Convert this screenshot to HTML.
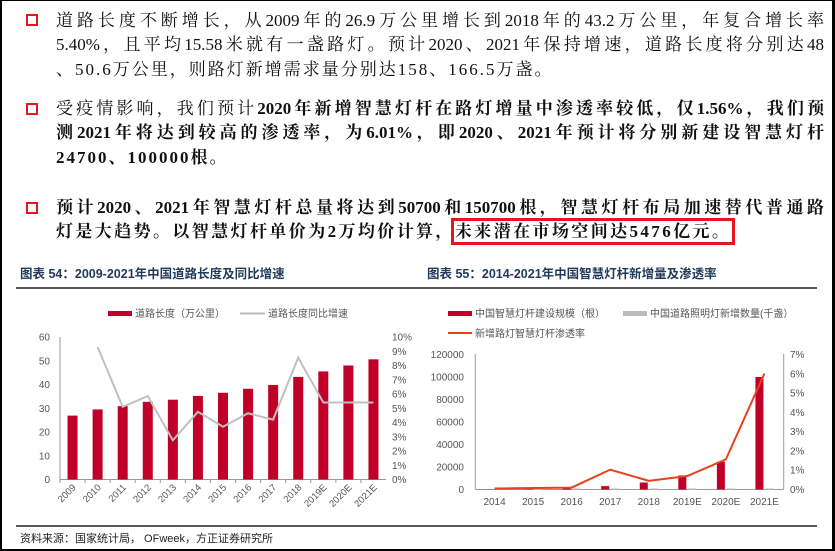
<!DOCTYPE html>
<html><head><meta charset="utf-8"><style>
html,body{margin:0;padding:0;background:#fff;}
#w{position:relative;width:835px;height:551px;overflow:hidden;box-sizing:border-box;border:1px solid #000;border-left:2px solid #000;border-right:3px solid #000;border-bottom:2px solid #000;}
.b{position:absolute;left:24px;width:8px;height:8px;border:2.5px solid #e8141e;}
.l{position:absolute;left:54px;width:768px;height:24px;font:17px "Liberation Serif","Noto Serif CJK SC",serif;color:#111;text-align:justify;text-align-last:justify;white-space:nowrap;line-height:24px;}
.l.n{text-align-last:left;letter-spacing:2px;}
.bo{font-weight:bold;}
svg{position:absolute;left:0;top:0;}
svg text{font-family:"Liberation Sans","Noto Sans CJK SC",sans-serif;}
</style></head><body><div id="w">
<div class="b" style="top:13px"></div>
<div class="l" style="top:8px">道路长度不断增长，从2009年的26.9万公里增长到2018年的43.2万公里，年复合增长率</div>
<div class="l" style="top:32px">5.40%，且平均15.58米就有一盏路灯。预计2020、2021年保持增速，道路长度将分别达48</div>
<div class="l n" style="top:57px">、50.6万公里，则路灯新增需求量分别达158、166.5万盏。</div>
<div class="b" style="top:102px"></div>
<div class="l" style="top:96px">受疫情影响，我们预计<span class="bo">2020年新增智慧灯杆在路灯增量中渗透率较低，仅1.56%，我们预</span></div>
<div class="l bo" style="top:120px">测2021年将达到较高的渗透率，为6.01%，即2020、2021年预计将分别新建设智慧灯杆</div>
<div class="l n bo" style="top:145px">24700、100000根。</div>
<div class="b" style="top:201px"></div>
<div class="l bo" style="top:195px">预计2020、2021年智慧灯杆总量将达到50700和150700根，智慧灯杆布局加速替代普通路</div>
<div class="l n bo" style="top:219px;letter-spacing:2.4px">灯是大趋势。以智慧灯杆单价为2万均价计算，<span style="outline:3px solid #e8141e;outline-offset:1px">未来潜在市场空间达5476亿元。</span></div>

<svg width="835" height="551" viewBox="0 0 835 551">
<g font-weight="bold" font-size="12.5" fill="#1f3a5a">
<text x="18" y="277">图表 54：2009-2021年中国道路长度及同比增速</text>
<text x="425" y="277">图表 55：2014-2021年中国智慧灯杆新增量及渗透率</text>
</g>
<line x1="14" y1="287" x2="815" y2="287" stroke="#222" stroke-width="1.5"/>
<line x1="14" y1="525" x2="815" y2="525" stroke="#222" stroke-width="1.5"/>
<text x="18" y="541" font-size="11" fill="#222">资料来源：国家统计局， OFweek，方正证券研究所</text>

<g font-size="10" fill="#555">
<rect x="106" y="310" width="24" height="5" fill="#c00028"/>
<text x="133" y="316">道路长度（万公里）</text>
<line x1="238" y1="312.5" x2="263" y2="312.5" stroke="#bbb" stroke-width="2"/>
<text x="266" y="316">道路长度同比增速</text>
</g>
<line x1="58" y1="336" x2="58" y2="478.5" stroke="#999"/>
<line x1="58" y1="478.5" x2="384" y2="478.5" stroke="#999"/>
<g id="c1"></g>
<g font-size="10" fill="#555">
<rect x="446" y="310" width="24" height="5" fill="#c00028"/>
<text x="473" y="316">中国智慧灯杆建设规模（根）</text>
<rect x="621" y="310" width="24" height="5" fill="#bbb"/>
<text x="648" y="316">中国道路照明灯新增数量(千盏）</text>
<line x1="446" y1="332" x2="470" y2="332" stroke="#e8401c" stroke-width="2"/>
<text x="473" y="336">新增路灯智慧灯杆渗透率</text>
</g>
<line x1="473.3" y1="353" x2="473.3" y2="488.5" stroke="#999"/>
<line x1="781.7" y1="353" x2="781.7" y2="488.5" stroke="#999"/>
<line x1="473.3" y1="488.5" x2="781.7" y2="488.5" stroke="#999"/>
<g id="c2"></g>
</svg>
<script>
var NS="http://www.w3.org/2000/svg";
function el(p,t,a,txt){var e=document.createElementNS(NS,t);for(var k in a)e.setAttribute(k,a[k]);if(txt!=null)e.textContent=txt;p.appendChild(e);return e;}
var g=document.getElementById('c1');
var yrs=['2009','2010','2011','2012','2013','2014','2015','2016','2017','2018','2019E','2020E','2021E'];
var v=[26.9,29.5,30.9,32.7,33.6,35.2,36.5,38.2,39.8,43.2,45.5,48,50.6];
var r=[null,9.3,5.1,5.85,2.75,4.75,3.7,4.65,4.2,8.55,5.4,5.4,5.4];
var cw=326/13,pts=[];
for(var i=0;i<=6;i++){var y=478.5-i*23.75;el(g,'text',{x:48,y:y+3.5,'font-size':10,fill:'#555','text-anchor':'end'},i*10);}
for(var i=0;i<=10;i++){var y=478.5-i*14.25;el(g,'text',{x:390,y:y+3.5,'font-size':10,fill:'#555'},i+'%');}
for(var i=0;i<13;i++){var cx=58+cw*(i+0.5);
el(g,'rect',{x:cx-5,y:478.5-v[i]*2.375,width:10,height:v[i]*2.375,fill:'#c00028'});
el(g,'line',{x1:58+cw*i,y1:478.5,x2:58+cw*i,y2:482,stroke:'#999'});
el(g,'text',{x:cx+4,y:487,'font-size':9.5,fill:'#555','text-anchor':'end',transform:'rotate(-45 '+(cx+4)+' 487)'},yrs[i]);
if(r[i]!=null)pts.push(cx+','+(478.5-r[i]*14.25));}
el(g,'polyline',{points:pts.join(' '),fill:'none',stroke:'#c0c0c0','stroke-width':2});
var g2=document.getElementById('c2');
var y2=['2014','2015','2016','2017','2018','2019E','2020E','2021E'];
var b=[150,300,1500,3000,6200,12500,24700,100000];
var p=[0.05,0.08,0.1,1.03,0.45,0.7,1.56,6.01];
var x0=473.3,w2=308.4/8,pp=[];
for(var i=0;i<=6;i++){var y=488.5-i*22.5;el(g2,'text',{x:462,y:y+3.5,'font-size':10,fill:'#555','text-anchor':'end'},i*20000);}
for(var i=0;i<=7;i++){var y=488.5-i*19.29;el(g2,'text',{x:788,y:y+3.5,'font-size':10,fill:'#555'},i+'%');}
for(var i=0;i<8;i++){var cx=x0+w2*(i+0.5);var h=b[i]*22.5/20000;
el(g2,'rect',{x:cx-9,y:488.5-h,width:8,height:h,fill:'#c00028'});
el(g2,'rect',{x:cx+1,y:487.3,width:8,height:1.2,fill:'#ccc'});
el(g2,'text',{x:cx,y:504,'font-size':10,fill:'#555','text-anchor':'middle'},y2[i]);
pp.push(cx+','+(488.5-p[i]*19.29));}
el(g2,'polyline',{points:pp.join(' '),fill:'none',stroke:'#e8401c','stroke-width':2});
</script>
</div></body></html>
